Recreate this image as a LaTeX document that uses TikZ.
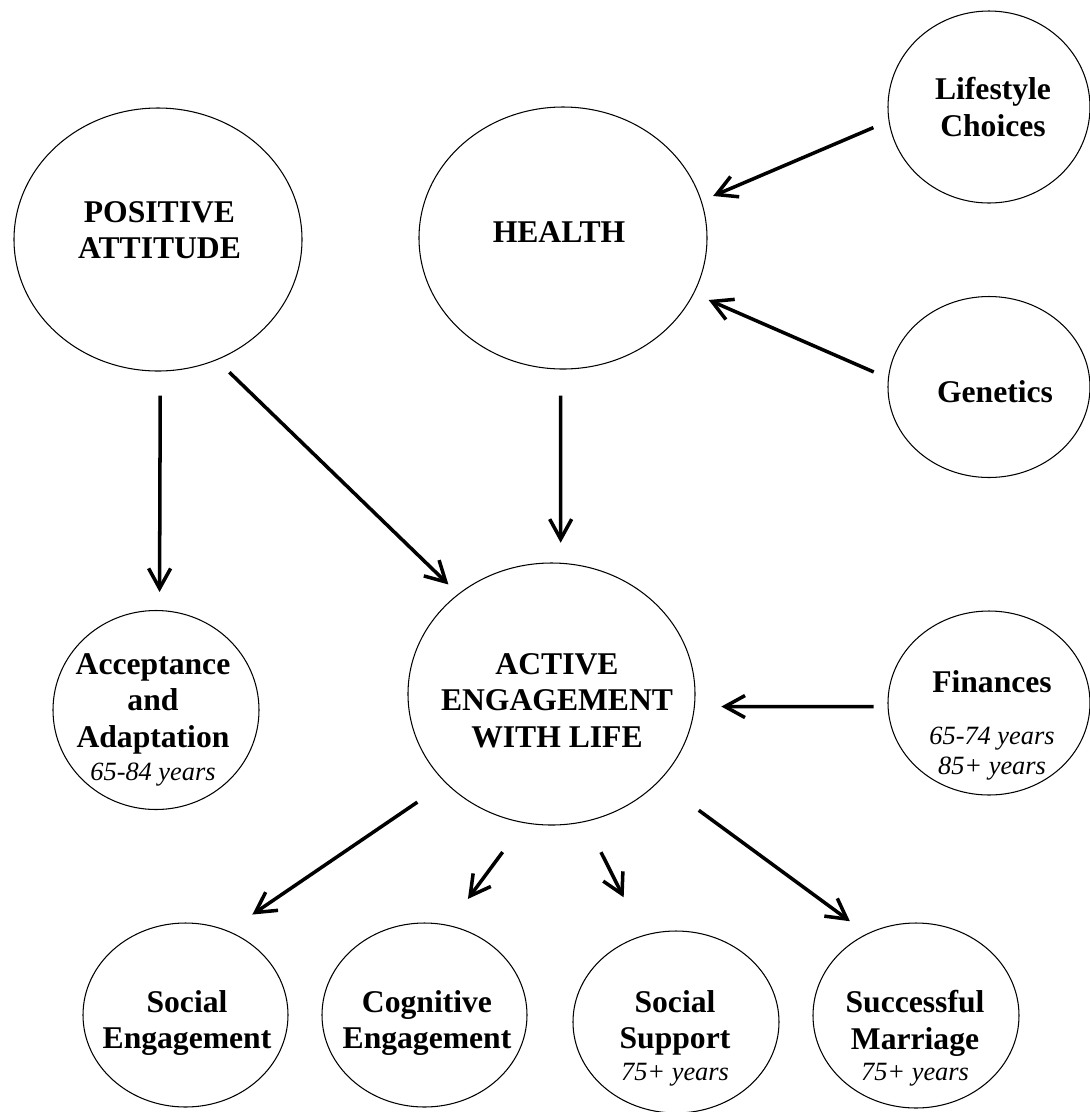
\documentclass[tikz,border=0pt]{standalone}
\usepackage{fontspec}
\setmainfont{Liberation Serif}
\usetikzlibrary{arrows.meta,shapes.geometric}

% age ranges under a factor
\newcommand{\agespan}[1]{{\fontsize{15}{17}\selectfont\mdseries\itshape #1}}

\begin{document}
\begin{tikzpicture}[bubble/.style = {ellipse,draw=black,line width=0.6pt,inner sep=0pt},
                    words/.style = {align=center,anchor=north,inner sep=0pt,font=\fontsize{18}{20.8}\selectfont\bfseries},
                    link/.style = {line width=2pt,-{Straight Barb[length=4mm,width=4.4mm]}}]
\useasboundingbox (0,0) rectangle (21.8,-22.24);

% top row
\node[bubble,minimum width=5.76cm,minimum height=5.26cm] (attitude)  at (3.16,-4.79)  {};
\node[bubble,minimum width=5.76cm,minimum height=5.24cm] (health)    at (11.26,-4.76) {};
\node[bubble,minimum width=4.04cm,minimum height=3.84cm] (lifestyle) at (19.78,-2.14) {};
\node[bubble,minimum width=4.04cm,minimum height=3.62cm] (genetics)  at (19.78,-7.74) {};
% middle row
\node[bubble,minimum width=4.12cm,minimum height=3.98cm] (accept)    at (3.12,-14.2)  {};
\node[bubble,minimum width=5.74cm,minimum height=5.24cm] (active)    at (11.03,-13.88) {};
\node[bubble,minimum width=4.04cm,minimum height=3.68cm] (finances)  at (19.78,-14.06) {};
% bottom row
\node[bubble,minimum width=4.1cm,minimum height=3.68cm]  (soceng)    at (3.71,-20.3)  {};
\node[bubble,minimum width=4.1cm,minimum height=3.68cm]  (cog)       at (8.49,-20.3)  {};
\node[bubble,minimum width=4.12cm,minimum height=3.64cm] (support)   at (13.52,-20.44) {};
\node[bubble,minimum width=4.12cm,minimum height=3.7cm]  (marriage)  at (18.32,-20.31) {};

% texts
\node[words] (t-attitude)  at (3.19,-4.02)  {POSITIVE\\ATTITUDE};
\node[words] (t-health)    at (11.18,-4.42) {HEALTH};
\node[words] (t-lifestyle) at (19.86,-1.54) {Lifestyle\\Choices};
\node[words] (t-genetics)  at (19.9,-7.6)   {Genetics};
\node[words] (t-accept)    at (3.06,-13.06) {Acceptance\\and\\Adaptation\\[-1.7pt]\agespan{65-84 years}};
\node[words] (t-active)    at (11.14,-13.06) {ACTIVE\\ENGAGEMENT\\WITH LIFE};
\node[words] (t-finances)  at (19.84,-13.4) {Finances\\[9pt]\agespan{65-74 years}\\[-3.6pt]\agespan{85+ years}};
\node[words] (t-soceng)    at (3.74,-19.8)  {Social\\Engagement};
\node[words] (t-cog)       at (8.54,-19.8)  {Cognitive\\Engagement};
\node[words] (t-support)   at (13.5,-19.8)  {Social\\Support\\[-3pt]\agespan{75+ years}};
\node[words] (t-marriage)  at (18.3,-19.8)  {Successful\\Marriage\\[-3pt]\agespan{75+ years}};

% arrows
\draw[link,shorten <=4.8mm,shorten >=3.6mm] (attitude.-89.6) -- (accept.88.3);
\draw[link,shorten <=3.5mm,shorten >=2.7mm] (attitude.-64.1) -- (active.133);
\draw[link,shorten <=5.2mm,shorten >=4mm]   (health.-91.3)   -- (active.86.3);
\draw[link,shorten <=3.3mm,shorten >=2.5mm] (lifestyle.188)  -- (health.15.5);
\draw[link,shorten <=3.1mm,shorten >=3.2mm] (genetics.175.6) -- (health.-23.1);
\draw[link,shorten <=2.8mm,shorten >=5.3mm] (finances.182.3) -- (active.-5.2);
\draw[link,shorten <=6.8mm,shorten >=5.8mm] (active.220.8)   -- (soceng.63.2);
\draw[link,shorten <=7.2mm,shorten >=6.5mm] (active.-102.8)  -- (cog.75.4);
\draw[link,shorten <=6.8mm,shorten >=8.5mm] (active.-75.4)   -- (support.111.6);
\draw[link,shorten <=9.8mm,shorten >=4.2mm] (active.-39.8)   -- (marriage.121.2);
\end{tikzpicture}
\end{document}
